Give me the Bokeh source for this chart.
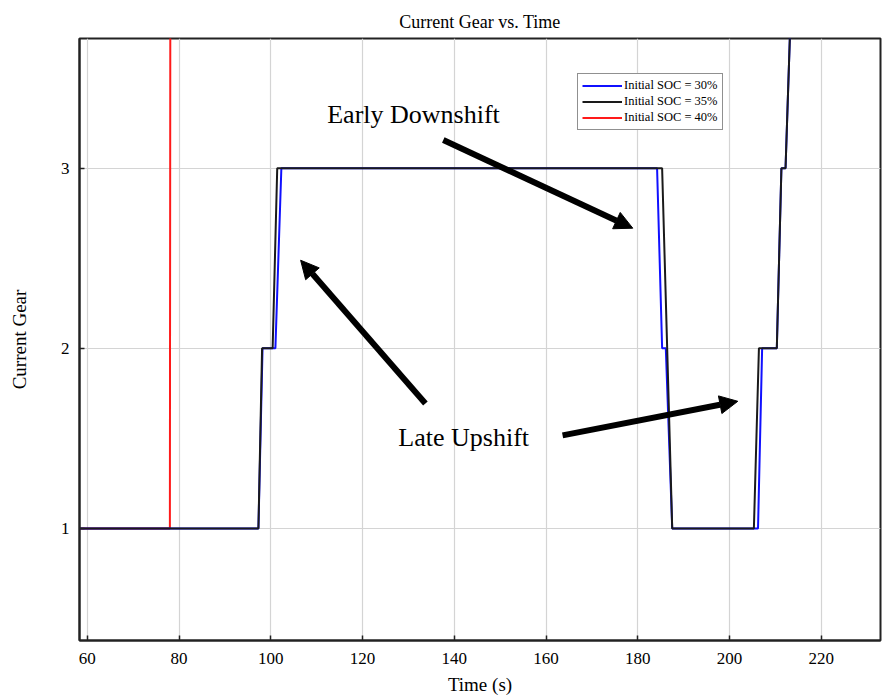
from bokeh.plotting import figure
from bokeh.models import (Range1d, Label, Arrow, NormalHead, Legend, LegendItem,
                          FixedTicker)
from bokeh.embed import file_html
from bokeh.resources import INLINE

# ---- data ----
t_soc30 = [58.0, 97.3, 98.2, 101.0, 102.3, 184.2, 185.3, 186.1, 187.5, 206.2, 207.1, 210.3, 211.3, 212.2, 213.5]
g_soc30 = [1, 1, 2, 2, 3, 3, 2, 2, 1, 1, 2, 2, 3, 3, 4]

t_soc35 = [58.0, 97.3, 98.1, 100.4, 101.4, 185.3, 187.5, 205.3, 206.4, 210.3, 211.3, 212.2, 213.5]
g_soc35 = [1, 1, 2, 2, 3, 3, 1, 1, 2, 2, 3, 3, 4]

t_soc40 = [58.0, 78.0, 78.1]
g_soc40 = [1, 1, 4]

x_ticks = [60, 80, 100, 120, 140, 160, 180, 200, 220]
y_ticks = [1, 2, 3]

labels = ["Initial SOC = 30%", "Initial SOC = 35%", "Initial SOC = 40%"]
colors = ["#1010ff", "#1a1a1a", "#ff1a1a"]

# annotations (data coordinates)
notes = [("Early Downshift", 112.3, 3.30), ("Late Upshift", 127.8, 1.505)]
arrows = [
    (137.6, 3.156, 178.9, 2.667),
    (133.7, 1.694, 106.5, 2.489),
    (163.6, 1.517, 201.8, 1.706),
]

SERIF = "Liberation Serif"

p = figure(width=882, height=699, output_backend="svg", toolbar_location=None,
           x_range=Range1d(58.3, 232.9), y_range=Range1d(0.378, 3.72),
           min_border_left=79, min_border_right=2, min_border_top=38, min_border_bottom=59)

p.title.text = "Current Gear vs. Time"
p.title.align = "center"
p.title.text_font = SERIF
p.title.text_font_size = "18px"
p.title.text_font_style = "normal"
p.title.text_color = "black"
p.title.standoff = 14

p.background_fill_color = "white"
p.border_fill_color = "white"
p.outline_line_color = "#222222"
p.outline_line_width = 2

for ax in (p.xaxis[0], p.yaxis[0]):
    ax.major_tick_in = 5
    ax.major_tick_out = 0
    ax.minor_tick_in = 0
    ax.minor_tick_out = 0
    ax.axis_line_color = "#222222"
    ax.axis_line_width = 2
    ax.major_tick_line_color = "#222222"
    ax.major_tick_line_width = 1.5
    ax.major_label_text_font = SERIF
    ax.major_label_text_font_size = "17px"
    ax.major_label_text_color = "black"
    ax.axis_label_text_font = SERIF
    ax.axis_label_text_font_size = "19px"
    ax.axis_label_text_font_style = "normal"
    ax.axis_label_text_color = "black"

p.xaxis.ticker = FixedTicker(ticks=x_ticks)
p.yaxis.ticker = FixedTicker(ticks=y_ticks)
p.xaxis.axis_label = "Time (s)"
p.yaxis.axis_label = "Current Gear"
p.xaxis.major_label_standoff = 12
p.xaxis.axis_label_standoff = 7
p.yaxis.major_label_standoff = 10
p.yaxis.axis_label_standoff = 28

p.xgrid.ticker = FixedTicker(ticks=x_ticks)
p.ygrid.ticker = FixedTicker(ticks=y_ticks)
p.grid.grid_line_color = "#d4d4d4"
p.grid.grid_line_width = 1.2

r40 = p.line(t_soc40, g_soc40, line_color=colors[2], line_width=2)
r30 = p.line(t_soc30, g_soc30, line_color=colors[0], line_width=2)
r35 = p.line(t_soc35, g_soc35, line_color=colors[1], line_width=2)

legend = Legend(items=[LegendItem(label=labels[0], renderers=[r30]),
                       LegendItem(label=labels[1], renderers=[r35]),
                       LegendItem(label=labels[2], renderers=[r40])],
                location=(498, 510))
legend.label_text_font = SERIF
legend.label_text_font_size = "12.5px"
legend.label_text_color = "black"
legend.label_height = 15
legend.glyph_height = 15
legend.glyph_width = 40
legend.label_standoff = 2
legend.spacing = 1
legend.padding = 4
legend.margin = 0
legend.border_line_color = "#222222"
legend.border_line_width = 1.5
legend.background_fill_color = "white"
legend.background_fill_alpha = 1.0
p.add_layout(legend, "center")

for (txt, x, y) in notes:
    p.add_layout(Label(x=x, y=y, text=txt, text_font=SERIF, text_font_size="26px",
                       text_color="black", text_align="left", text_baseline="alphabetic"))

for (x0, y0, x1, y1) in arrows:
    p.add_layout(Arrow(x_start=x0, y_start=y0, x_end=x1, y_end=y1, line_width=6,
                       line_color="black",
                       end=NormalHead(size=18, fill_color="black", line_color="black", line_width=1)))

open("out.html", "w").write(file_html(p, INLINE))
